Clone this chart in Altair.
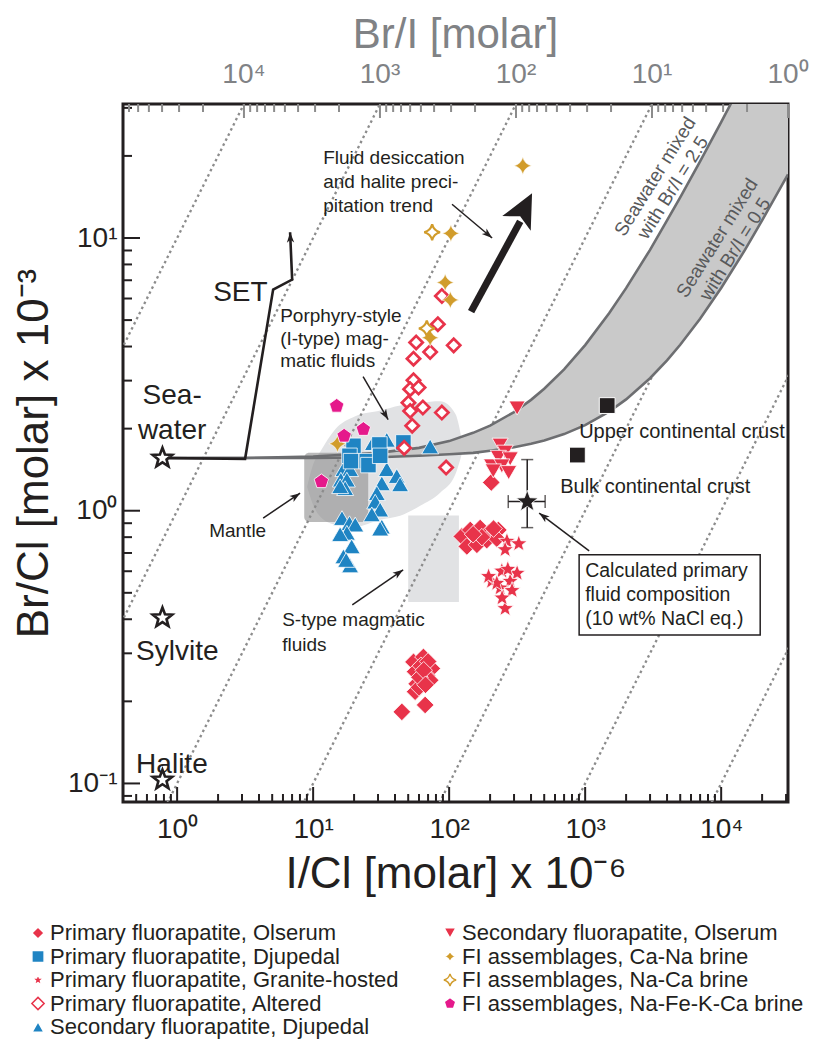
import math
import pandas as pd
import altair as alt

FONT = "Liberation Sans"
INK = "#231f20"
GREY_TXT = "#808285"
RED = "#e8334a"
BLUE = "#1f84c3"
GOLD = "#d19c2b"
MAGENTA = "#e5198b"

X_DOMAIN = [0.40, 31000]
Y_DOMAIN = [0.0855, 31.0]
W, H = 665, 698

# ---------------- measured series (I/Cl x1e-6, Br/Cl x1e-3) ----------------
po_x = [124, 143, 169, 195, 230, 135, 160, 189, 224, 174, 204, 150, 212,
        54.7, 64.7, 74.6, 56.2, 68.6, 57.8, 72.5, 56.2, 60.0, 66.6, 44.9, 62.0, 70.0, 60.5, 65.0, 67.0]
po_y = [0.805, 0.85, 0.864, 0.83, 0.85, 0.74, 0.75, 0.78, 0.79, 0.80, 1.27, 0.82, 0.86,
        0.279, 0.291, 0.264, 0.257, 0.249, 0.232, 0.239, 0.217, 0.225, 0.194, 0.183, 0.27, 0.28, 0.245, 0.26, 0.23]

pd_x = [19.8, 18.5, 19.0, 24.8, 25.5, 30.7, 31.1, 46.1]
pd_y = [1.73, 1.59, 1.52, 1.52, 1.47, 1.75, 1.59, 1.78]

pg_x = [266, 325, 258, 205, 244, 316, 281, 237, 290, 258, 245, 224, 195, 270]
pg_y = [0.773, 0.757, 0.72, 0.551, 0.601, 0.59, 0.551, 0.521, 0.51, 0.438, 0.479, 0.542, 0.574, 0.61]

pa_x = [88.4, 82.6, 57.2, 108, 54.7, 72.5, 54.7, 51.7, 59.6, 50.2, 51.7, 64.1, 88.4, 53.5, 46.7, 95]
pa_y = [6.13, 4.83, 4.14, 4.04, 3.61, 3.82, 3.01, 2.79, 2.83, 2.49, 2.32, 2.39, 2.29, 2.05, 1.70, 1.44]

sd_x = [27.5, 34.8, 72.5, 16.7, 18.7, 16.0, 17.7, 17.2, 15.8, 34.8, 41.2, 32.0, 43.6, 29.4,
        28.6, 31.1, 27.0, 16.3, 18.5, 20.4, 17.7, 15.8, 19.2, 32.0, 31.1, 16.7, 18.7, 17.5]
sd_y = [1.77, 1.82, 1.72, 1.42, 1.42, 1.30, 1.30, 1.21, 1.23, 1.42, 1.34, 1.26, 1.25, 1.16,
        1.08, 1.01, 0.97, 0.94, 0.90, 0.89, 0.83, 0.82, 0.74, 0.875, 0.86, 0.68, 0.63, 0.66]

so_x = [316, 237, 258, 230, 281, 205, 244, 211, 274]
so_y = [2.38, 1.74, 1.64, 1.57, 1.55, 1.46, 1.46, 1.40, 1.38]

fa_x = [15.1, 72.5, 348, 103, 93.5, 102]
fa_y = [1.76, 4.31, 18.4, 10.4, 6.87, 5.93]
fb_x = [68.5, 75]
fb_y = [4.66, 10.5]
fc_x = [14.9, 23.4, 16.9, 11.5]
fc_y = [2.42, 1.99, 1.88, 1.28]

# reference compositions
ref_x = [0.78, 0.78, 0.78]          # seawater, sylvite, halite
ref_y = [1.56, 0.405, 0.103]
crust_x = [1452, 877]               # upper, bulk continental crust
crust_y = [2.43, 1.60]
calc_x, calc_y = [375], [1.08]
calc_x_lo, calc_x_hi = [272], [508]
calc_y_lo, calc_y_hi = [0.867], [1.54]

# SET path
set_x = [0.78, 3.16, 5.08, 7.01, 6.77]
set_y = [1.56, 1.55, 6.47, 7.04, 10.5]

# seawater mixing curves
mix_x = [0.78, 3, 10, 30, 60, 100, 150, 200, 300, 400, 500, 700, 1000, 1500, 2000, 3000,
         4000, 5000, 7000, 10000, 15000, 20000, 31000]
mix_hi = [1.56, 1.56, 1.58, 1.63, 1.70, 1.80, 1.93, 2.05, 2.30, 2.55, 2.80, 3.30, 4.05, 5.30,
          6.55, 9.05, 11.6, 14.1, 19.1, 26.6, 39.1, 51.6, 79.1]
mix_lo = [1.56, 1.56, 1.56, 1.57, 1.59, 1.61, 1.63, 1.66, 1.71, 1.76, 1.81, 1.91, 2.06, 2.31,
          2.56, 3.06, 3.56, 4.06, 5.06, 6.56, 9.06, 11.6, 17.1]

# fields
blob_x = [9.03, 10.0, 11.3, 14.5, 20.4, 31.1, 43.6, 61.2, 85.9, 111, 127]
blob_top = [1.225, 1.476, 1.648, 1.986, 2.22, 2.33, 2.43, 2.49, 2.52, 2.27, 1.69]
blob_bot = [1.225, 1.05, 0.95, 0.889, 0.874, 0.927, 0.958, 1.043, 1.165, 1.357, 1.69]
mantle_x, mantle_y = [8.6, 25.4], [0.91, 1.63]
stype_x, stype_y = [50, 118], [0.463, 0.96]
box_x, box_y = [903, 19360], [0.689, 0.350]

# constant Br/I guide lines and top axis
bri_lines = [1e4, 1e3, 1e2, 1e1, 1, 0.1, 0.01]
top_major = [1e4, 1e3, 1e2, 1e1, 1]
top_labels = ["10⁴", "10³", "10²", "10¹", "10⁰"]

# arrows: (x1, y1, x2, y2)
thin_arrows = [
    (105, 13.3, 207, 10.0),
    (23.3, 3.1, 35.6, 2.16),
    (4.29, 0.94, 8.02, 1.16),
    (19.4, 0.452, 45.9, 0.607),
    (1070, 0.713, 459, 0.98),
]
big_arrow = (145, 5.37, 333, 11.5, 407, 14.6)   # tail, shaft end, tip

# annotations
notes_text = ["Sea-\nwater", "Sylvite", "Halite", "SET",
              "Fluid desiccation\nand halite preci-\npitation trend",
              "Porphyry-style\n(I-type) mag-\nmatic fluids", "Mantle",
              "S-type magmatic\nfluids", "Upper continental crust", "Bulk continental crust",
              "Calculated primary\nfluid composition\n(10 wt% NaCl eq.)"]
notes_x = [0.919, 0.4995, 0.4995, 1.84, 11.85, 5.72, 1.72, 5.92, 903, 655, 1000]
notes_y = [2.955, 0.341, 0.132, 7.07, 21.2, 5.58, 0.911, 0.429, 2.11, 1.33, 0.65]
mix_lab_text = ["Seawater mixed\nwith Br/I = 2.5", "Seawater mixed\nwith Br/I = 0.5"]
mix_lab_x = [3270, 9350]
mix_lab_y = [16.8, 10.0]

SERIES = ["Primary fluorapatite, Olserum", "Primary fluorapatite, Djupedal",
          "Primary fluorapatite, Granite-hosted", "Primary fluorapatite, Altered",
          "Secondary fluorapatite, Djupedal", "Secondary fluorapatite, Olserum",
          "FI assemblages, Ca-Na brine", "FI assemblages, Na-Ca brine",
          "FI assemblages, Na-Fe-K-Ca brine"]

# ---------------- shapes ----------------
def poly(pts):
    return "M" + " L".join(f"{x:.4f},{y:.4f}" for x, y in pts) + " Z"

STAR5 = poly([((1 if k % 2 == 0 else 0.42) * math.cos(math.radians(-90 + 36 * k)),
               (1 if k % 2 == 0 else 0.42) * math.sin(math.radians(-90 + 36 * k))) for k in range(10)])
PENT = poly([(math.cos(math.radians(-90 + 72 * k)), math.sin(math.radians(-90 + 72 * k))) for k in range(5)])
STAR4 = "M0,-1 Q0.2,-0.2 1,0 Q0.2,0.2 0,1 Q-0.2,0.2 -1,0 Q-0.2,-0.2 0,-1 Z"
HEAD = "M0,0 L0.6,1.7 L0,1.25 L-0.6,1.7 Z"
BIGHEAD = "M0,0 L0.8,1.7 L0,1.3 L-0.8,1.7 Z"

shape_rng = ["diamond", "square", STAR5, "diamond", "triangle-up", "triangle-down", STAR4, STAR4, PENT]
fill_rng = [RED, BLUE, RED, "white", BLUE, RED, GOLD, "white", MAGENTA]
stroke_rng = ["white", "white", "white", RED, "white", "white", "white", GOLD, "white"]

xs = alt.Scale(type="log", domain=X_DOMAIN, nice=False)
ys = alt.Scale(type="log", domain=Y_DOMAIN, nice=False)

SUP = {"0": "⁰", "1": "¹", "2": "²", "3": "³", "4": "⁴", "5": "⁵", "6": "⁶",
       "7": "⁷", "8": "⁸", "9": "⁹", "-": "⁻"}


def sup_expr(vals):
    parts = []
    for v in vals:
        e = int(round(math.log10(v)))
        parts.append(f"datum.value == {v} ? '10{''.join(SUP[c] for c in str(e))}'")
    return " : ".join(parts) + " : ''"


x_axis = alt.Axis(values=[1, 10, 100, 1000, 10000], labelExpr=sup_expr([1, 10, 100, 1000, 10000]),
                  ticks=False, domain=False, grid=False, labelFontSize=28, labelFont=FONT,
                  labelColor=INK, labelPadding=13, labelFlush=False, labelOverlap=False,
                  title="I/Cl [molar] x 10⁻⁶", titleFontSize=44, titleFont=FONT,
                  titleFontWeight="normal", titleColor=INK, titlePadding=9)
y_axis = alt.Axis(values=[0.1, 1, 10], labelExpr=sup_expr([0.1, 1, 10]),
                  ticks=False, domain=False, grid=False, labelFontSize=28, labelFont=FONT,
                  labelColor=INK, labelPadding=6, labelFlush=False, labelOverlap=False,
                  title="Br/Cl [molar] x 10⁻³", titleFontSize=44, titleFont=FONT,
                  titleFontWeight="normal", titleColor=INK, titlePadding=11)


def X(f):
    return alt.X(f, type="quantitative", scale=xs, axis=x_axis)


def Y(f):
    return alt.Y(f, type="quantitative", scale=ys, axis=y_axis)


KX = W / math.log10(X_DOMAIN[1] / X_DOMAIN[0])
KY = H / math.log10(Y_DOMAIN[1] / Y_DOMAIN[0])


def ang(x1, y1, x2, y2):
    dx = KX * math.log10(x2 / x1)
    dy = -KY * math.log10(y2 / y1)
    return math.degrees(math.atan2(dx, -dy)) % 360


layers = []

# porphyry field
layers.append(alt.Chart(pd.DataFrame({"x": blob_x, "lo": blob_bot, "hi": blob_top}))
              .mark_area(fill="#e1e2e4", interpolate="monotone", opacity=1)
              .encode(x=X("x"), y=Y("lo"), y2="hi:Q"))
# S-type field
layers.append(alt.Chart(pd.DataFrame({"x": [stype_x[0]], "x2": [stype_x[1]], "y": [stype_y[0]], "y2": [stype_y[1]]}))
              .mark_rect(fill="#e1e2e4").encode(x=X("x"), x2="x2:Q", y=Y("y"), y2="y2:Q"))
# mantle field
layers.append(alt.Chart(pd.DataFrame({"x": [mantle_x[0]], "x2": [mantle_x[1]], "y": [mantle_y[0]], "y2": [mantle_y[1]]}))
              .mark_rect(fill="#8f8f8f", opacity=0.62, cornerRadius=5)
              .encode(x=X("x"), x2="x2:Q", y=Y("y"), y2="y2:Q"))

# Br/I guide lines
guide = pd.DataFrame([{"b": b, "xe": xe} for b in bri_lines for xe in (0.01, 1e5)])
layers.append(alt.Chart(guide).transform_calculate(ye="datum.b * datum.xe / 1000")
              .mark_line(clip=True, color="#8c8c8c", strokeWidth=2.3, strokeDash=[2.5, 3.2])
              .encode(x=X("xe"), y=Y("ye"), detail="b:N"))

# mixing band
mix_df = pd.DataFrame({"x": mix_x, "lo": mix_lo, "hi": mix_hi})
layers.append(alt.Chart(mix_df).mark_area(clip=True, fill="#c9c9c9", opacity=1)
              .encode(x=X("x"), y=Y("lo"), y2="hi:Q"))
layers.append(alt.Chart(mix_df).mark_line(clip=True, color="#6d6e71", strokeWidth=2.6)
              .encode(x=X("x"), y=Y("hi")))
layers.append(alt.Chart(mix_df).mark_line(clip=True, color="#6d6e71", strokeWidth=2.6)
              .encode(x=X("x"), y=Y("lo")))

# SET path + head
layers.append(alt.Chart(pd.DataFrame({"x": set_x, "y": set_y, "o": list(range(len(set_x)))}))
              .mark_line(color=INK, strokeWidth=2.6)
              .encode(x=X("x"), y=Y("y"), order="o:Q"))
layers.append(alt.Chart(pd.DataFrame({"x": [set_x[-1]], "y": [set_y[-1]]}))
              .mark_point(shape=HEAD, filled=True, fill=INK, strokeWidth=0, opacity=1, size=150,
                          angle=ang(set_x[-2], set_y[-2], set_x[-1], set_y[-1]))
              .encode(x=X("x"), y=Y("y")))

# thin annotation arrows
for (x1, y1, x2, y2) in thin_arrows:
    layers.append(alt.Chart(pd.DataFrame({"x": [x1, x2], "y": [y1, y2], "o": [0, 1]}))
                  .mark_line(color=INK, strokeWidth=1.5).encode(x=X("x"), y=Y("y"), order="o:Q"))
    layers.append(alt.Chart(pd.DataFrame({"x": [x2], "y": [y2]}))
                  .mark_point(shape=HEAD, filled=True, fill=INK, strokeWidth=0, opacity=1, size=150,
                              angle=ang(x1, y1, x2, y2))
                  .encode(x=X("x"), y=Y("y")))

# big trend arrow
bx0, by0, bx1, by1, bx2, by2 = big_arrow
layers.append(alt.Chart(pd.DataFrame({"x": [bx0, bx1], "y": [by0, by1], "o": [0, 1]}))
              .mark_line(color=INK, strokeWidth=7).encode(x=X("x"), y=Y("y"), order="o:Q"))
layers.append(alt.Chart(pd.DataFrame({"x": [bx2], "y": [by2]}))
              .mark_point(shape=BIGHEAD, filled=True, fill=INK, strokeWidth=0, opacity=1, size=1600,
                          angle=ang(bx0, by0, bx2, by2))
              .encode(x=X("x"), y=Y("y")))

# data series
leg = alt.Legend(title=None, orient="none", legendX=-96, legendY=818, columns=2, columnPadding=40,
                 rowPadding=1.5, labelFontSize=22, labelFont=FONT, labelColor=INK, labelLimit=0,
                 symbolSize=150, symbolStrokeWidth=1.5, labelOffset=1, padding=0)
shape_scale = alt.Scale(domain=SERIES, range=shape_rng)
fill_scale = alt.Scale(domain=SERIES, range=fill_rng)
stroke_scale = alt.Scale(domain=SERIES, range=stroke_rng)

series_data = [
    (SERIES[4], sd_x, sd_y, 290, 0.8),
    (SERIES[1], pd_x, pd_y, 240, 0.8),
    (SERIES[3], pa_x, pa_y, 175, 2.7),
    (SERIES[0], po_x, po_y, 310, 0.8),
    (SERIES[2], pg_x, pg_y, 310, 0.8),
    (SERIES[5], so_x, so_y, 260, 0.8),
    (SERIES[6], fa_x, fa_y, 300, 0.6),
    (SERIES[7], fb_x, fb_y, 250, 2.2),
    (SERIES[8], fc_x, fc_y, 230, 0.8),
]
for name, xv, yv, size, sw in series_data:
    df = pd.DataFrame({"x": xv, "y": yv, "series": [name] * len(xv)})
    layers.append(alt.Chart(df).mark_point(filled=True, opacity=1, size=size, strokeWidth=sw)
                  .encode(x=X("x"), y=Y("y"),
                          shape=alt.Shape("series:N", scale=shape_scale, legend=leg),
                          fill=alt.Fill("series:N", scale=fill_scale, legend=leg),
                          stroke=alt.Stroke("series:N", scale=stroke_scale, legend=leg)))

# reference stars and crust squares
layers.append(alt.Chart(pd.DataFrame({"x": ref_x, "y": ref_y}))
              .mark_point(shape=STAR5, filled=True, fill="white", stroke=INK, strokeWidth=2.6,
                          opacity=1, size=420)
              .encode(x=X("x"), y=Y("y")))
layers.append(alt.Chart(pd.DataFrame({"x": crust_x, "y": crust_y}))
              .mark_point(shape="square", filled=True, fill=INK, stroke="white", strokeWidth=1,
                          opacity=1, size=250)
              .encode(x=X("x"), y=Y("y")))

# calculated primary fluid with error bars
calc_df = pd.DataFrame({"x": calc_x, "y": calc_y, "xl": calc_x_lo, "xh": calc_x_hi,
                        "yl": calc_y_lo, "yh": calc_y_hi})
layers.append(alt.Chart(calc_df).mark_rule(color=INK, strokeWidth=1.5)
              .encode(x=X("x"), y=Y("yl"), y2="yh:Q"))
layers.append(alt.Chart(calc_df).mark_rule(color=INK, strokeWidth=1.5)
              .encode(x=X("xl"), x2="xh:Q", y=Y("y")))
for f in ("yl", "yh"):
    layers.append(alt.Chart(calc_df).mark_tick(orient="horizontal", color=INK, thickness=1.5, size=12)
                  .encode(x=X("x"), y=Y(f)))
for f in ("xl", "xh"):
    layers.append(alt.Chart(calc_df).mark_tick(orient="vertical", color=INK, thickness=1.5, size=13)
                  .encode(x=X(f), y=Y("y")))
layers.append(alt.Chart(calc_df).mark_point(shape=STAR5, filled=True, fill=INK, stroke="white",
                                            strokeWidth=0.8, opacity=1, size=520)
              .encode(x=X("x"), y=Y("y")))

# annotation box
layers.append(alt.Chart(pd.DataFrame({"x": [box_x[0]], "x2": [box_x[1]], "y": [box_y[0]], "y2": [box_y[1]]}))
              .mark_rect(fill="white", stroke=INK, strokeWidth=1.5)
              .encode(x=X("x"), x2="x2:Q", y=Y("y"), y2="y2:Q"))

# annotations
note_style = [
    dict(fontSize=28, align="center", lineHeight=35),
    dict(fontSize=28, align="left"),
    dict(fontSize=28, align="left"),
    dict(fontSize=28, align="left"),
    dict(fontSize=19, align="left", lineHeight=24),
    dict(fontSize=19, align="left", lineHeight=22.5),
    dict(fontSize=19, align="left"),
    dict(fontSize=19, align="left", lineHeight=25),
    dict(fontSize=20, align="left"),
    dict(fontSize=20, align="left"),
    dict(fontSize=19.5, align="left", lineHeight=24),
]
for t, xv, yv, st in zip(notes_text, notes_x, notes_y, note_style):
    layers.append(alt.Chart(pd.DataFrame({"x": [xv], "y": [yv], "t": [t]}))
                  .mark_text(font=FONT, color=INK, baseline="top", lineBreak="\n", **st)
                  .encode(x=X("x"), y=Y("y"), text="t:N"))
for t, xv, yv in zip(mix_lab_text, mix_lab_x, mix_lab_y):
    layers.append(alt.Chart(pd.DataFrame({"x": [xv], "y": [yv], "t": [t]}))
                  .mark_text(font=FONT, color="#58595b", fontSize=19, align="center", baseline="middle",
                             lineBreak="\n", lineHeight=21, angle=302)
                  .encode(x=X("x"), y=Y("y"), text="t:N"))

# inner ticks: bottom and left
x_major = [1, 10, 100, 1000, 10000]
x_minor = [m * 10 ** e for e in range(-1, 5) for m in range(2, 10)
           if X_DOMAIN[0] <= m * 10 ** e <= X_DOMAIN[1]]
y_major = [0.1, 1, 10]
y_minor = [m * 10 ** e for e in range(-2, 2) for m in range(2, 10)
           if Y_DOMAIN[0] <= m * 10 ** e <= Y_DOMAIN[1]]
for vals, ln in ((x_major, 15), (x_minor, 8)):
    layers.append(alt.Chart(pd.DataFrame({"v": vals})).mark_rule(color=INK, strokeWidth=2)
                  .encode(x=X("v"), y=alt.value(H), y2=alt.value(H - ln)))
for vals, ln in ((y_major, 17), (y_minor, 9)):
    layers.append(alt.Chart(pd.DataFrame({"v": vals})).mark_rule(color=INK, strokeWidth=2)
                  .encode(y=Y("v"), x=alt.value(0), x2=alt.value(ln)))

# top Br/I axis (ticks at x = 1000*Ymax/(Br/I))
top_minor = [m * 10 ** e for e in range(0, 5) for m in range(2, 10)
             if 1000 * Y_DOMAIN[1] / (m * 10 ** e) >= X_DOMAIN[0]]
top_expr = f"1000 * {Y_DOMAIN[1]} / datum.b"
for vals, ln in ((top_major, 14), (top_minor, 8)):
    layers.append(alt.Chart(pd.DataFrame({"b": vals})).transform_calculate(xt=top_expr)
                  .mark_rule(color="#8c8c8c", strokeWidth=2)
                  .encode(x=X("xt"), y=alt.value(0), y2=alt.value(ln)))
layers.append(alt.Chart(pd.DataFrame({"b": top_major, "t": top_labels})).transform_calculate(xt=top_expr)
              .mark_text(font=FONT, fontSize=28, color=GREY_TXT, align="center", baseline="middle")
              .encode(x=X("xt"), y=alt.value(-29), text="t:N"))
layers.append(alt.Chart(pd.DataFrame({"t": ["Br/I [molar]"]}))
              .mark_text(font=FONT, fontSize=42, color=GREY_TXT, align="center", baseline="middle")
              .encode(x=alt.value(W / 2), y=alt.value(-69), text="t:N"))

chart = (alt.layer(*layers)
         .properties(width=W, height=H, autosize=alt.AutoSizeParams(type="none"),
                     padding={"left": 115, "top": 96, "right": 25, "bottom": 245})
         .configure(background="white")
         .configure_view(stroke=INK, strokeWidth=3))

chart.save("out.html", embed_options={"renderer": "svg", "actions": False})
